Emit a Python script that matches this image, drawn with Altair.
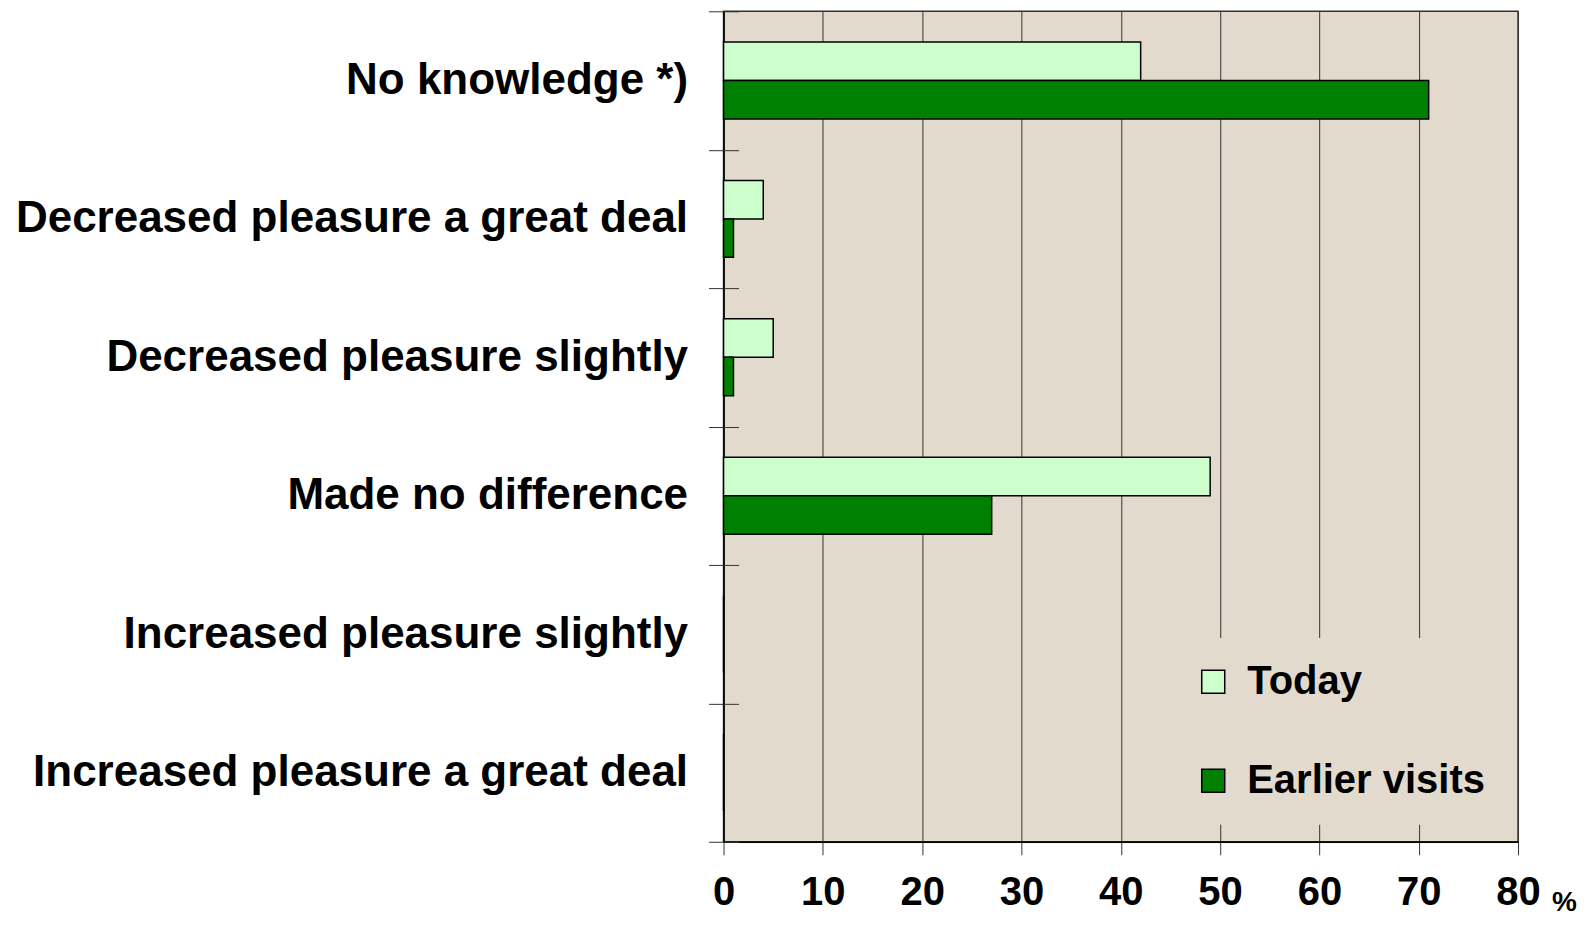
import altair as alt
import pandas as pd

categories = [
    "No knowledge *)",
    "Decreased pleasure a great deal",
    "Decreased pleasure slightly",
    "Made no difference",
    "Increased pleasure slightly",
    "Increased pleasure a great deal",
]
series = ["Today", "Earlier visits"]
today = [42, 4, 5, 49, 0, 0]
earlier = [71, 1, 1, 27, 0, 0]
colors = ["#ccffcc", "#008000"]
x_ticks = [0, 10, 20, 30, 40, 50, 60, 70, 80]

rows = []
for c, t, e in zip(categories, today, earlier):
    rows.append({"category": c, "series": "Today", "value": t})
    rows.append({"category": c, "series": "Earlier visits", "value": e})
df = pd.DataFrame(rows)

FONT = "Liberation Sans Narrow, Arial Narrow, Liberation Sans, Arial, sans-serif"
W, H = 795, 831

y_scale = alt.Scale(paddingInner=0, paddingOuter=0)

bars = alt.Chart(df).mark_bar(stroke="black", strokeWidth=1.5).encode(
    x=alt.X(
        "value:Q",
        scale=alt.Scale(domain=[0, 80], nice=False),
        axis=alt.Axis(
            values=x_ticks, grid=True, gridColor="#333333", gridWidth=1,
            tickSize=13, tickColor="#333333", domainColor="black", domainWidth=1.5,
            labelFontSize=40, labelFont=FONT, labelFontWeight="bold",
            labelColor="black", labelPadding=18, labelFlush=False,
            labelOverlap=False, title=None,
        ),
    ),
    y=alt.Y(
        "category:N", sort=categories, scale=y_scale,
        axis=alt.Axis(
            title=None, labelFontSize=44, labelFont=FONT, labelFontWeight="bold",
            labelColor="black", labelPadding=21, tickSize=15, tickBand="extent",
            tickColor="#333333", domainColor="black", domainWidth=1.5, labelLimit=0,
        ),
    ),
    yOffset=alt.YOffset("series:N", sort=series,
                        scale=alt.Scale(paddingInner=0, paddingOuter=0.8)),
    color=alt.Color(
        "series:N", sort=series,
        scale=alt.Scale(domain=series, range=colors),
        legend=alt.Legend(
            title=None, orient="none", legendX=446, legendY=627,
            symbolType="square", symbolSize=529, symbolStrokeColor="black",
            symbolStrokeWidth=1.5, symbolOpacity=1,
            labelFontSize=40, labelFont=FONT, labelFontWeight="bold",
            labelColor="black", labelOffset=14, rowPadding=59, labelLimit=0,
            padding=24, fillColor="#e2dacd",
        ),
    ),
)

inner_ticks = alt.Chart(df).mark_point(opacity=0).encode(
    y=alt.Y(
        "category:N", sort=categories, scale=y_scale,
        axis=alt.Axis(
            orient="right", offset=-W, labels=False, domain=False, title=None,
            tickSize=15, tickBand="extent", tickColor="#333333",
        ),
    ),
)

pct = alt.Chart(pd.DataFrame({"t": ["%"]})).mark_text(
    text="%", align="left", baseline="alphabetic", fontSize=28,
    font=FONT, fontWeight="bold", color="black",
).encode(x=alt.value(829), y=alt.value(900))

chart = alt.layer(bars, inner_ticks, pct).resolve_axis(y="independent").properties(
    width=W, height=H,
    padding={"left": 716, "top": 3, "right": 60, "bottom": 78},
    autosize=alt.AutoSizeParams(type="none"),
    background="white",
).configure_view(fill="#e2dacd", stroke="#333333", strokeWidth=1.5)

chart.save("out.html", embed_options={"renderer": "svg", "actions": False})
